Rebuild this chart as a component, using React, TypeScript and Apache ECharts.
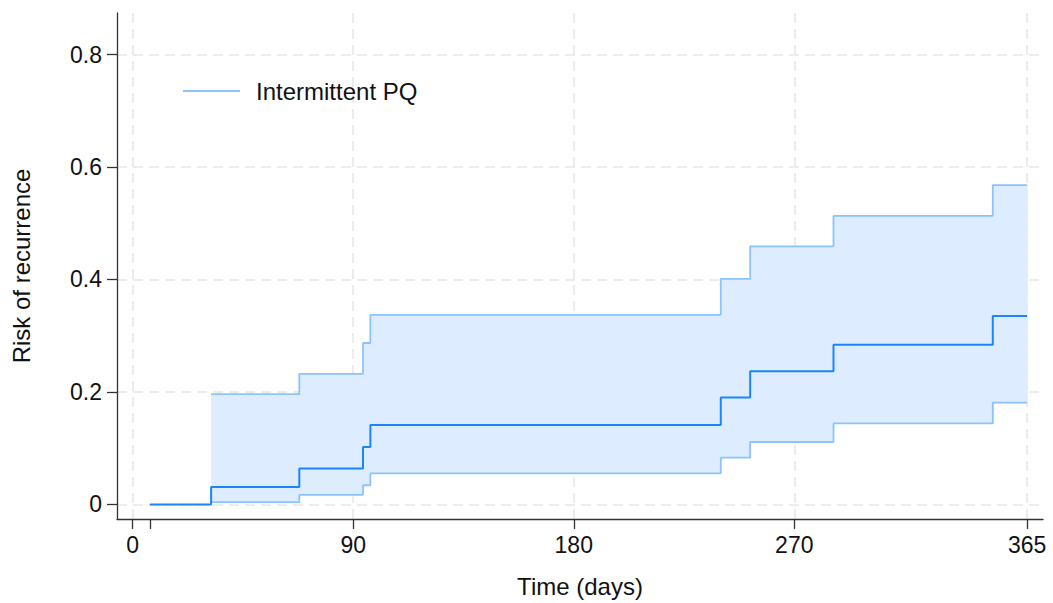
import React, { useEffect, useRef } from "react";
import * as echarts from "echarts";

// Kaplan–Meier style cumulative risk (step changes at these days)
const startDay = 7;
const endDay = 365;
const eventDays = [32, 68, 94, 97, 240, 252, 286, 351];
const risk = [0.031, 0.064, 0.102, 0.141, 0.19, 0.237, 0.284, 0.335];
const lowerCI = [0.004, 0.017, 0.034, 0.055, 0.083, 0.111, 0.144, 0.181];
const upperCI = [0.196, 0.232, 0.287, 0.337, 0.401, 0.459, 0.513, 0.568];

const xTickLabels = [0, 90, 180, 270, 365];
const yTickLabels = [0, 0.2, 0.4, 0.6, 0.8];

const seriesName = "Intermittent PQ";
const mainColor = "#1a85ff";
const ciColor = "#8cc2ff";
const fillColor = "#ddedff";
const font = "Liberation Sans, Arial, Helvetica, sans-serif";

export default function App() {
  const ref = useRef<HTMLDivElement>(null);

  useEffect(() => {
    document.body.style.margin = "0";
    if (!ref.current) return;
    const chart = echarts.init(ref.current, null, { renderer: "svg" });

    const riskData: number[][] = [[startDay, 0]];
    eventDays.forEach((d, i) => riskData.push([d, risk[i]]));
    riskData.push([endDay, risk[risk.length - 1]]);

    const lowData: number[][] = eventDays.map((d, i) => [d, lowerCI[i]]);
    lowData.push([endDay, lowerCI[lowerCI.length - 1]]);
    const upData: number[][] = eventDays.map((d, i) => [d, upperCI[i]]);
    upData.push([endDay, upperCI[upperCI.length - 1]]);

    // band segments: [from, to, lower, upper]
    const bandData: number[][] = eventDays.map((d, i) => [
      d,
      i + 1 < eventDays.length ? eventDays[i + 1] : endDay,
      lowerCI[i],
      upperCI[i],
    ]);

    const axisColor = "#333333";
    const gridLine = { show: true, lineStyle: { color: "#e6e6e6", width: 1.5, type: [10, 6] as any } };

    chart.setOption({
      animation: false,
      textStyle: { fontFamily: font },
      grid: { left: 117, right: 10, top: 13, bottom: 84, outerBoundsMode: "none" },
      legend: {
        show: true,
        left: 178,
        top: 74,
        itemWidth: 57,
        itemHeight: 2,
        data: [{ name: seriesName, icon: "rect" }],
        textStyle: { fontSize: 24, color: "#111", fontFamily: font, padding: [0, 0, 0, 11] },
        selectedMode: false,
      },
      xAxis: [
        {
          type: "value",
          position: "bottom",
          min: -6.4,
          max: 371.5,
          name: "Time (days)",
          nameLocation: "middle",
          nameGap: 55,
          nameTextStyle: { fontSize: 24, color: "#111", fontFamily: font },
          axisLine: { show: true, onZero: false, lineStyle: { color: axisColor, width: 1.3 } },
          axisTick: { show: true, length: 10, customValues: xTickLabels, lineStyle: { color: axisColor, width: 1.3 } },
          axisLabel: { show: true, customValues: xTickLabels, fontSize: 23, color: "#111", margin: 14, fontFamily: font },
          splitLine: gridLine,
        },
        {
          type: "value",
          position: "bottom",
          min: -6.4,
          max: 371.5,
          axisLine: { show: false, onZero: false },
          axisTick: { show: true, length: 10, customValues: [startDay], lineStyle: { color: axisColor, width: 1.3 } },
          axisLabel: { show: false },
          splitLine: { show: false },
        },
      ],
      yAxis: {
        type: "value",
        min: -0.026,
        max: 0.874,
        name: "Risk of recurrence",
        nameLocation: "middle",
        nameRotate: 90,
        nameGap: 84,
        nameTextStyle: { fontSize: 24, color: "#111", fontFamily: font },
        axisLine: { show: true, onZero: false, lineStyle: { color: axisColor, width: 1.3 } },
        axisTick: { show: true, length: 10, customValues: yTickLabels, lineStyle: { color: axisColor, width: 1.3 } },
        axisLabel: {
          show: true,
          customValues: yTickLabels,
          fontSize: 23,
          color: "#111",
          margin: 15,
          fontFamily: font,
          formatter: (v: number) => (v === 0 ? "0" : v.toFixed(1)),
        },
        splitLine: gridLine,
      },
      series: [
        {
          name: "band",
          type: "custom",
          xAxisIndex: 0,
          z: 1,
          encode: { x: [0, 1], y: [2, 3] },
          data: bandData,
          renderItem: (params: any, api: any) => {
            const p0 = api.coord([api.value(0), api.value(3)]);
            const p1 = api.coord([api.value(1), api.value(2)]);
            return {
              type: "rect",
              shape: { x: p0[0], y: p0[1], width: p1[0] - p0[0] + 0.6, height: p1[1] - p0[1] },
              style: { fill: fillColor },
            };
          },
        },
        {
          name: seriesName,
          type: "line",
          xAxisIndex: 0,
          step: "end",
          symbol: "none",
          data: lowData,
          z: 3,
          color: ciColor,
          lineStyle: { color: ciColor, width: 1.8 },
        },
        {
          name: "upper",
          type: "line",
          xAxisIndex: 0,
          step: "end",
          symbol: "none",
          data: upData,
          z: 3,
          color: ciColor,
          lineStyle: { color: ciColor, width: 1.8 },
        },
        {
          name: "risk",
          type: "line",
          xAxisIndex: 0,
          step: "end",
          symbol: "none",
          data: riskData,
          z: 4,
          color: mainColor,
          lineStyle: { color: mainColor, width: 2 },
        },
      ],
    });

    return () => chart.dispose();
  }, []);

  return <div ref={ref} style={{ width: 1053, height: 603 }} />;
}
